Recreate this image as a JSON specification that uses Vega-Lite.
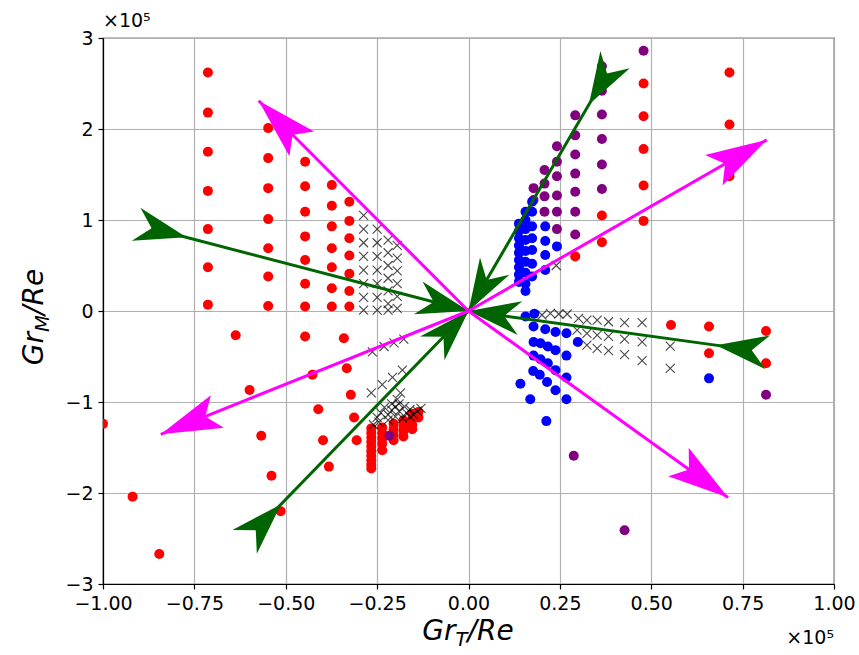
{
  "$schema": "https://vega.github.io/schema/vega-lite/v6.json",
  "width": 731,
  "height": 546,
  "autosize": "none",
  "padding": {"left": 103, "top": 38, "right": 25, "bottom": 71},
  "background": "white",
  "config": {
    "font": "DejaVu Sans",
    "view": {"stroke": "#000", "strokeWidth": 1.2},
    "axis": {
      "labelFont": "DejaVu Sans", "labelFontSize": 19, "labelColor": "#000",
      "tickColor": "#000", "tickSize": 5, "tickWidth": 1.2,
      "domainColor": "#000", "domainWidth": 1.2,
      "gridColor": "#b0b0b0", "gridWidth": 1.2, "gridOpacity": 1,
      "labelPadding": 5
    }
  },
  "datasets": {
    "pts": [
      {"g":"r","x":-0.713,"y":2.62},{"g":"r","x":-0.713,"y":2.18},{"g":"r","x":-0.713,"y":1.75},{"g":"r","x":-0.713,"y":1.32},{"g":"r","x":-0.713,"y":0.90},{"g":"r","x":-0.713,"y":0.48},{"g":"r","x":-0.713,"y":0.07},
      {"g":"r","x":-0.548,"y":2.01},{"g":"r","x":-0.548,"y":1.68},{"g":"r","x":-0.548,"y":1.35},{"g":"r","x":-0.548,"y":1.01},{"g":"r","x":-0.548,"y":0.69},{"g":"r","x":-0.548,"y":0.38},{"g":"r","x":-0.548,"y":0.055},
      {"g":"r","x":-0.447,"y":1.64},{"g":"r","x":-0.447,"y":1.37},{"g":"r","x":-0.447,"y":1.09},{"g":"r","x":-0.447,"y":0.82},{"g":"r","x":-0.447,"y":0.56},{"g":"r","x":-0.447,"y":0.30},{"g":"r","x":-0.447,"y":0.05},
      {"g":"r","x":-0.374,"y":1.385},{"g":"r","x":-0.374,"y":1.157},{"g":"r","x":-0.374,"y":0.93},{"g":"r","x":-0.374,"y":0.69},{"g":"r","x":-0.374,"y":0.48},{"g":"r","x":-0.374,"y":0.25},{"g":"r","x":-0.374,"y":0.05},
      {"g":"r","x":-0.326,"y":1.20},{"g":"r","x":-0.326,"y":0.99},{"g":"r","x":-0.326,"y":0.80},{"g":"r","x":-0.326,"y":0.61},{"g":"r","x":-0.326,"y":0.41},{"g":"r","x":-0.326,"y":0.22},{"g":"r","x":-0.326,"y":0.05},
      {"g":"r","x":-0.637,"y":-0.267},{"g":"r","x":-0.599,"y":-0.868},{"g":"r","x":-0.567,"y":-1.37},{"g":"r","x":-0.539,"y":-1.81},{"g":"r","x":-0.514,"y":-2.20},{"g":"r","x":-0.919,"y":-2.04},{"g":"r","x":-0.846,"y":-2.67},{"g":"r","x":-1.0,"y":-1.24},
      {"g":"r","x":-0.447,"y":-0.28},{"g":"r","x":-0.341,"y":-0.30},{"g":"r","x":-0.427,"y":-0.70},{"g":"r","x":-0.333,"y":-0.63},{"g":"r","x":-0.322,"y":-0.92},{"g":"r","x":-0.411,"y":-1.08},{"g":"r","x":-0.313,"y":-1.17},{"g":"r","x":-0.398,"y":-1.42},{"g":"r","x":-0.306,"y":-1.42},{"g":"r","x":-0.382,"y":-1.71},
      {"g":"r","x":-0.266,"y":-1.29},{"g":"r","x":-0.266,"y":-1.34},{"g":"r","x":-0.266,"y":-1.39},{"g":"r","x":-0.266,"y":-1.44},{"g":"r","x":-0.266,"y":-1.49},{"g":"r","x":-0.266,"y":-1.54},{"g":"r","x":-0.266,"y":-1.59},{"g":"r","x":-0.266,"y":-1.64},{"g":"r","x":-0.266,"y":-1.69},{"g":"r","x":-0.266,"y":-1.73},
      {"g":"r","x":-0.236,"y":-1.28},{"g":"r","x":-0.236,"y":-1.34},{"g":"r","x":-0.236,"y":-1.40},{"g":"r","x":-0.236,"y":-1.46},{"g":"r","x":-0.236,"y":-1.53},
      {"g":"r","x":-0.205,"y":-1.24},{"g":"r","x":-0.205,"y":-1.30},{"g":"r","x":-0.205,"y":-1.36},{"g":"r","x":-0.205,"y":-1.42},
      {"g":"r","x":-0.178,"y":-1.20},{"g":"r","x":-0.178,"y":-1.26},{"g":"r","x":-0.178,"y":-1.32},{"g":"r","x":-0.178,"y":-1.38},
      {"g":"r","x":-0.154,"y":-1.13},{"g":"r","x":-0.154,"y":-1.19},{"g":"r","x":-0.154,"y":-1.25},{"g":"r","x":-0.154,"y":-1.30},
      {"g":"r","x":-0.137,"y":-1.11},{"g":"r","x":-0.137,"y":-1.17},
      {"g":"r","x":0.714,"y":2.62},{"g":"r","x":0.714,"y":2.05},{"g":"r","x":0.714,"y":1.48},
      {"g":"r","x":0.479,"y":2.50},{"g":"r","x":0.479,"y":2.14},{"g":"r","x":0.479,"y":1.78},{"g":"r","x":0.479,"y":1.38},{"g":"r","x":0.479,"y":0.99},
      {"g":"r","x":0.365,"y":1.05},{"g":"r","x":0.365,"y":0.755},{"g":"r","x":0.292,"y":0.60},
      {"g":"r","x":0.554,"y":-0.154},{"g":"r","x":0.658,"y":-0.17},{"g":"r","x":0.658,"y":-0.465},{"g":"r","x":0.814,"y":-0.22},{"g":"r","x":0.814,"y":-0.575},
      {"g":"p","x":0.479,"y":2.86},
      {"g":"p","x":0.365,"y":2.69},{"g":"p","x":0.365,"y":2.42},{"g":"p","x":0.365,"y":2.16},{"g":"p","x":0.365,"y":1.89},{"g":"p","x":0.365,"y":1.61},{"g":"p","x":0.365,"y":1.34},
      {"g":"p","x":0.292,"y":2.15},{"g":"p","x":0.292,"y":1.93},{"g":"p","x":0.292,"y":1.72},{"g":"p","x":0.292,"y":1.51},{"g":"p","x":0.292,"y":1.31},{"g":"p","x":0.292,"y":1.09},{"g":"p","x":0.292,"y":0.84},
      {"g":"p","x":0.242,"y":1.81},{"g":"p","x":0.242,"y":1.64},{"g":"p","x":0.242,"y":1.48},{"g":"p","x":0.242,"y":1.27},{"g":"p","x":0.242,"y":1.09},{"g":"p","x":0.242,"y":0.90},
      {"g":"p","x":0.208,"y":1.55},{"g":"p","x":0.208,"y":1.40},{"g":"p","x":0.208,"y":1.26},{"g":"p","x":0.208,"y":1.09},
      {"g":"p","x":0.178,"y":1.35},{"g":"p","x":0.178,"y":1.22},
      {"g":"p","x":0.288,"y":-1.59},{"g":"p","x":0.427,"y":-2.41},{"g":"p","x":0.814,"y":-0.92},{"g":"p","x":-0.216,"y":-1.37},
      {"g":"b","x":0.138,"y":0.96},{"g":"b","x":0.138,"y":0.88},{"g":"b","x":0.138,"y":0.80},{"g":"b","x":0.138,"y":0.72},{"g":"b","x":0.138,"y":0.64},{"g":"b","x":0.138,"y":0.56},{"g":"b","x":0.138,"y":0.48},{"g":"b","x":0.138,"y":0.40},{"g":"b","x":0.138,"y":0.32},
      {"g":"b","x":0.156,"y":1.09},{"g":"b","x":0.156,"y":1.00},{"g":"b","x":0.156,"y":0.90},{"g":"b","x":0.156,"y":0.78},{"g":"b","x":0.156,"y":0.66},{"g":"b","x":0.156,"y":0.54},{"g":"b","x":0.156,"y":0.42},{"g":"b","x":0.156,"y":0.30},{"g":"b","x":0.156,"y":0.22},
      {"g":"b","x":0.174,"y":1.20},{"g":"b","x":0.174,"y":1.09},{"g":"b","x":0.174,"y":0.93},{"g":"b","x":0.174,"y":0.80},{"g":"b","x":0.174,"y":0.67},{"g":"b","x":0.174,"y":0.52},{"g":"b","x":0.174,"y":0.38},
      {"g":"b","x":0.21,"y":0.93},{"g":"b","x":0.21,"y":0.77},{"g":"b","x":0.21,"y":0.615},{"g":"b","x":0.21,"y":0.45},{"g":"b","x":0.242,"y":0.71},
      {"g":"b","x":0.156,"y":-0.06},{"g":"b","x":0.18,"y":-0.03},{"g":"b","x":0.178,"y":-0.17},{"g":"b","x":0.21,"y":-0.20},{"g":"b","x":0.238,"y":-0.23},{"g":"b","x":0.268,"y":-0.245},{"g":"b","x":0.299,"y":-0.34},
      {"g":"b","x":0.178,"y":-0.34},{"g":"b","x":0.197,"y":-0.355},{"g":"b","x":0.217,"y":-0.39},{"g":"b","x":0.238,"y":-0.43},{"g":"b","x":0.268,"y":-0.49},
      {"g":"b","x":0.178,"y":-0.49},{"g":"b","x":0.197,"y":-0.53},{"g":"b","x":0.217,"y":-0.575},{"g":"b","x":0.238,"y":-0.65},{"g":"b","x":0.268,"y":-0.73},
      {"g":"b","x":0.177,"y":-0.66},{"g":"b","x":0.195,"y":-0.70},{"g":"b","x":0.215,"y":-0.78},{"g":"b","x":0.238,"y":-0.87},{"g":"b","x":0.268,"y":-0.97},
      {"g":"b","x":0.142,"y":-0.80},{"g":"b","x":0.169,"y":-0.97},{"g":"b","x":0.213,"y":-1.21},{"g":"b","x":0.658,"y":-0.74}
    ],
    "xm": [
      {"x":-0.287,"y":1.05},{"x":-0.287,"y":0.90},{"x":-0.287,"y":0.75},{"x":-0.287,"y":0.60},{"x":-0.287,"y":0.45},{"x":-0.287,"y":0.30},{"x":-0.287,"y":0.15},{"x":-0.287,"y":0.01},
      {"x":-0.25,"y":0.90},{"x":-0.25,"y":0.75},{"x":-0.25,"y":0.60},{"x":-0.25,"y":0.45},{"x":-0.25,"y":0.30},{"x":-0.25,"y":0.15},{"x":-0.25,"y":0.01},
      {"x":-0.22,"y":0.78},{"x":-0.22,"y":0.64},{"x":-0.22,"y":0.50},{"x":-0.22,"y":0.36},{"x":-0.22,"y":0.22},{"x":-0.22,"y":0.08},{"x":-0.22,"y":0.01},
      {"x":-0.195,"y":0.72},{"x":-0.195,"y":0.58},{"x":-0.195,"y":0.44},{"x":-0.195,"y":0.30},{"x":-0.195,"y":0.16},{"x":-0.195,"y":0.03},
      {"x":-0.263,"y":-0.45},{"x":-0.231,"y":-0.39},{"x":-0.204,"y":-0.35},{"x":-0.177,"y":-0.31},
      {"x":-0.266,"y":-0.90},{"x":-0.236,"y":-0.81},{"x":-0.208,"y":-0.73},{"x":-0.181,"y":-0.65},
      {"x":-0.186,"y":-0.90},{"x":-0.195,"y":-0.97},{"x":-0.21,"y":-1.02},{"x":-0.24,"y":-1.12},{"x":-0.23,"y":-1.06},{"x":-0.22,"y":-1.14},{"x":-0.21,"y":-1.09},{"x":-0.20,"y":-1.05},{"x":-0.20,"y":-1.16},{"x":-0.19,"y":-1.10},{"x":-0.18,"y":-1.18},{"x":-0.17,"y":-1.12},{"x":-0.16,"y":-1.08},{"x":-0.15,"y":-1.14},{"x":-0.14,"y":-1.10},{"x":-0.22,"y":-1.20},{"x":-0.245,"y":-1.22},{"x":-0.26,"y":-1.25},{"x":-0.25,"y":-1.17},{"x":-0.19,"y":-1.02},{"x":-0.175,"y":-1.05},{"x":-0.16,"y":-1.16},{"x":-0.13,"y":-1.07},
      {"x":0.201,"y":-0.044},{"x":0.224,"y":-0.026},{"x":0.247,"y":-0.033},{"x":0.27,"y":-0.033},{"x":0.301,"y":-0.08},{"x":0.324,"y":-0.10},{"x":0.352,"y":-0.10},{"x":0.383,"y":-0.118},{"x":0.427,"y":-0.128},{"x":0.475,"y":-0.128},
      {"x":0.297,"y":-0.21},{"x":0.324,"y":-0.245},{"x":0.352,"y":-0.264},{"x":0.383,"y":-0.28},{"x":0.427,"y":-0.31},{"x":0.475,"y":-0.34},
      {"x":0.324,"y":-0.374},{"x":0.352,"y":-0.41},{"x":0.383,"y":-0.436},{"x":0.427,"y":-0.48},{"x":0.475,"y":-0.546},
      {"x":0.552,"y":-0.385},{"x":0.552,"y":-0.63},{"x":0.24,"y":0.50}
    ],
    "green": [
      {"x":-0.867,"y":0.909},{"x":0.379,"y":2.61},{"x":-0.582,"y":-2.41},{"x":0.775,"y":-0.43}
    ],
    "magenta": [
      {"x":-0.574,"y":2.31},{"x":0.816,"y":1.88},{"x":-0.842,"y":-1.355},{"x":0.71,"y":-2.05}
    ],
    "labels": [
      {"t":"Gr"}
    ]
  },
  "layer": [
    {
      "data": {"name": "pts"},
      "mark": {"type": "point", "shape": "circle", "filled": true, "size": 100, "opacity": 1, "strokeWidth": 0, "clip": true},
      "encoding": {
        "x": {"field": "x", "type": "quantitative", "title": null,
          "scale": {"domain": [-1, 1], "nice": false, "zero": false},
          "axis": {"values": [-1, -0.75, -0.5, -0.25, 0, 0.25, 0.5, 0.75, 1], "format": ".2f", "labelFlush": false, "labelOverlap": false, "grid": true}},
        "y": {"field": "y", "type": "quantitative", "title": null,
          "scale": {"domain": [-3, 3], "nice": false, "zero": false},
          "axis": {"values": [-3, -2, -1, 0, 1, 2, 3], "format": "d", "labelFlush": false, "labelOverlap": false, "grid": true}},
        "color": {"field": "g", "type": "nominal", "scale": {"domain": ["r", "p", "b"], "range": ["#ff0000", "#800080", "#0000ff"]}, "legend": null}
      }
    },
    {
      "data": {"name": "xm"},
      "mark": {"type": "point", "shape": "M-1,-1L1,1M-1,1L1,-1", "filled": false, "size": 81, "color": "#000", "strokeWidth": 1.1, "opacity": 0.72, "clip": true},
      "encoding": {
        "x": {"field": "x", "type": "quantitative", "title": null},
        "y": {"field": "y", "type": "quantitative", "title": null}
      }
    },
    {
      "data": {"name": "green"},
      "mark": {"type": "rule", "color": "#006400", "strokeWidth": 3},
      "encoding": {
        "x": {"field": "x", "type": "quantitative", "title": null},
        "y": {"field": "y", "type": "quantitative", "title": null},
        "x2": {"datum": 0}, "y2": {"datum": 0}
      }
    },
    {
      "data": {"name": "green"},
      "transform": [{"calculate": "atan2(datum.y*91, -datum.x*365.5)*180/PI", "as": "ang"}],
      "mark": {"type": "point", "shape": "M3.6,0L-1.6,-1.7L0,0L-1.6,1.7Z", "filled": true, "size": 400, "color": "#006400", "opacity": 1, "strokeWidth": 0},
      "encoding": {
        "x": {"field": "x", "type": "quantitative", "title": null},
        "y": {"field": "y", "type": "quantitative", "title": null},
        "angle": {"field": "ang", "type": "quantitative", "scale": null}
      }
    },
    {
      "data": {"name": "green"},
      "transform": [{"calculate": "atan2(datum.y*91, -datum.x*365.5)*180/PI", "as": "ang"}],
      "mark": {"type": "point", "shape": "M0,0L-5.2,-1.7L-3.6,0L-5.2,1.7Z", "filled": true, "size": 400, "color": "#006400", "opacity": 1, "strokeWidth": 0},
      "encoding": {
        "x": {"datum": 0},
        "y": {"datum": 0},
        "angle": {"field": "ang", "type": "quantitative", "scale": null}
      }
    },
    {
      "data": {"name": "magenta"},
      "mark": {"type": "rule", "color": "#ff00ff", "strokeWidth": 3},
      "encoding": {
        "x": {"field": "x", "type": "quantitative", "title": null},
        "y": {"field": "y", "type": "quantitative", "title": null},
        "x2": {"datum": 0}, "y2": {"datum": 0}
      }
    },
    {
      "data": {"name": "magenta"},
      "transform": [{"calculate": "atan2(-datum.y*91, datum.x*365.5)*180/PI", "as": "ang"}],
      "mark": {"type": "point", "shape": "M0,0L-6.1,-1.75L-4.8,0L-6.1,1.75Z", "filled": true, "size": 400, "color": "#ff00ff", "opacity": 1, "strokeWidth": 0},
      "encoding": {
        "x": {"field": "x", "type": "quantitative", "title": null},
        "y": {"field": "y", "type": "quantitative", "title": null},
        "angle": {"field": "ang", "type": "quantitative", "scale": null}
      }
    },
    {
      "data": {"name": "labels"},
      "mark": {"type": "text", "text": "Gr", "fontStyle": "italic", "fontSize": 28, "align": "right", "baseline": "alphabetic", "dx": -13, "dy": 56, "color": "#000"},
      "encoding": {"x": {"datum": 0}, "y": {"datum": -3}}
    },
    {
      "data": {"name": "labels"},
      "mark": {"type": "text", "text": "T", "fontStyle": "italic", "fontSize": 19.6, "align": "left", "baseline": "alphabetic", "dx": -13, "dy": 62, "color": "#000"},
      "encoding": {"x": {"datum": 0}, "y": {"datum": -3}}
    },
    {
      "data": {"name": "labels"},
      "mark": {"type": "text", "text": "/Re", "fontStyle": "italic", "fontSize": 28, "align": "left", "baseline": "alphabetic", "dx": -1, "dy": 56, "color": "#000"},
      "encoding": {"x": {"datum": 0}, "y": {"datum": -3}}
    },
    {
      "data": {"name": "labels"},
      "mark": {"type": "text", "text": "×10⁵", "fontSize": 19, "align": "right", "baseline": "alphabetic", "dy": 60, "color": "#000"},
      "encoding": {"x": {"datum": 1}, "y": {"datum": -3}}
    },
    {
      "data": {"name": "labels"},
      "mark": {"type": "text", "text": "Gr", "fontStyle": "italic", "fontSize": 28, "angle": 270, "align": "right", "baseline": "alphabetic", "dx": -21, "dy": -60, "color": "#000"},
      "encoding": {"x": {"datum": -1}, "y": {"datum": 0}}
    },
    {
      "data": {"name": "labels"},
      "mark": {"type": "text", "text": "M", "fontStyle": "italic", "fontSize": 19.6, "angle": 270, "align": "left", "baseline": "alphabetic", "dx": -21, "dy": -54, "color": "#000"},
      "encoding": {"x": {"datum": -1}, "y": {"datum": 0}}
    },
    {
      "data": {"name": "labels"},
      "mark": {"type": "text", "text": "/Re", "fontStyle": "italic", "fontSize": 28, "angle": 270, "align": "left", "baseline": "alphabetic", "dx": -4, "dy": -60, "color": "#000"},
      "encoding": {"x": {"datum": -1}, "y": {"datum": 0}}
    },
    {
      "data": {"name": "labels"},
      "mark": {"type": "text", "text": "×10⁵", "fontSize": 19, "align": "left", "baseline": "alphabetic", "dy": -11, "color": "#000"},
      "encoding": {"x": {"datum": -1}, "y": {"datum": 3}}
    }
  ]
}
